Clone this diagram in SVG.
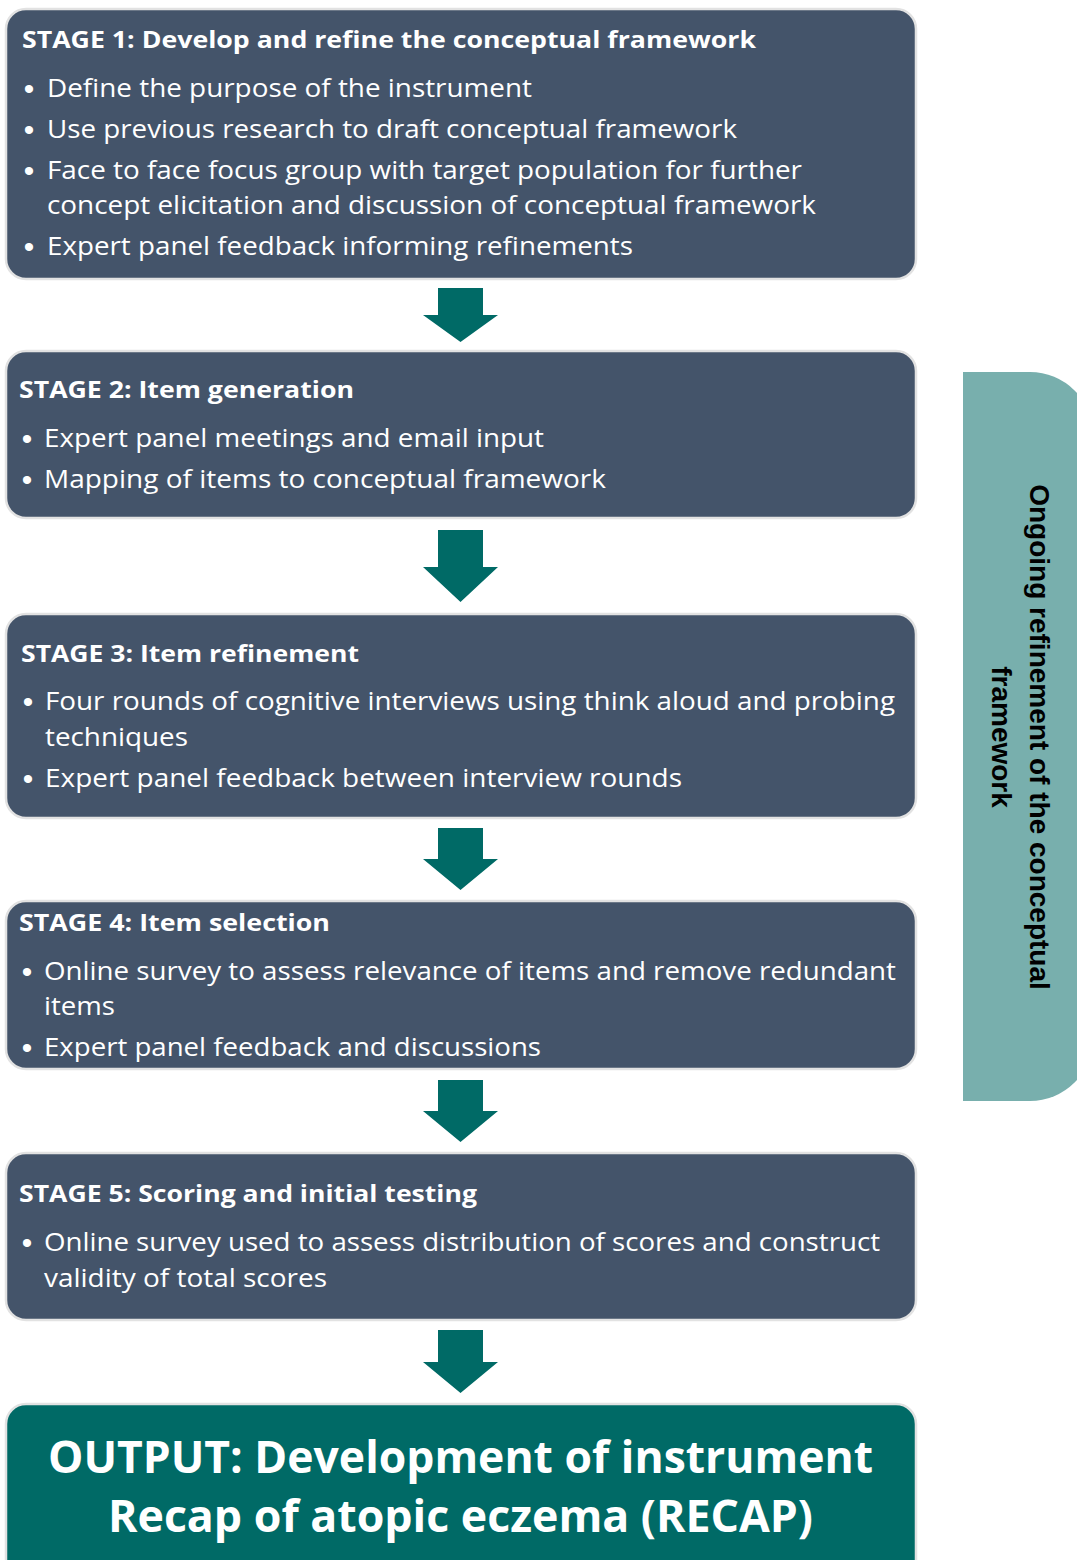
<svg xmlns="http://www.w3.org/2000/svg" width="1077" height="1560" viewBox="0 0 1077 1560">
<style>
.box{fill:#44546A;stroke:#E2E2E2;stroke-width:2.5}
.out{fill:#006A66;stroke:#E2E2E2;stroke-width:2.5}
.arrow{fill:#006A66}
.title{font-family:"Open Sans","Noto Sans",sans-serif;font-weight:bold;font-size:24px;fill:#FFFFFF}
.body{font-family:"Open Sans","Noto Sans",sans-serif;font-size:25px;fill:#FFFFFF}
.bul{font-family:"Liberation Sans",Arial,sans-serif;font-size:30px;fill:#FFFFFF;text-anchor:middle}
.big{font-family:"Open Sans","Noto Sans",sans-serif;font-weight:bold;font-size:45px;fill:#FFFFFF;text-anchor:middle}
.side{font-family:"Liberation Sans",Arial,sans-serif;font-weight:bold;font-size:28px;fill:#000000;text-anchor:middle}
</style>
<rect width="1077" height="1560" fill="#FFFFFF"/>

<g id="side-panel">
<path d="M963,372 H1030 A63,63 0 0 1 1093,435 V1038 A63,63 0 0 1 1030,1101 H963 Z" fill="#78AFAD"/>
<g transform="translate(1030,737) rotate(90)">
<text class="side" x="0" y="0">Ongoing refinement of the conceptual</text>
<text class="side" x="0" y="38">framework</text>
</g>
</g>

<g id="stage1">
<rect class="box" x="6" y="9" width="910" height="270" rx="20"/>
<text class="title" x="22" y="48" textLength="734" lengthAdjust="spacingAndGlyphs">STAGE 1: Develop and refine the conceptual framework</text>
<text class="bul" x="29" y="99">•</text>
<text class="body" x="47" y="97" textLength="485" lengthAdjust="spacingAndGlyphs">Define the purpose of the instrument</text>
<text class="bul" x="29" y="140">•</text>
<text class="body" x="47" y="138" textLength="690" lengthAdjust="spacingAndGlyphs">Use previous research to draft conceptual framework</text>
<text class="bul" x="29" y="181">•</text>
<text class="body" x="47" y="179" textLength="755" lengthAdjust="spacingAndGlyphs">Face to face focus group with target population for further</text>
<text class="body" x="47" y="214" textLength="769" lengthAdjust="spacingAndGlyphs">concept elicitation and discussion of conceptual framework</text>
<text class="bul" x="29" y="257">•</text>
<text class="body" x="47" y="255" textLength="586" lengthAdjust="spacingAndGlyphs">Expert panel feedback informing refinements</text>
</g>

<g id="stage2">
<rect class="box" x="6" y="351" width="910" height="167" rx="20"/>
<text class="title" x="19" y="398" textLength="335" lengthAdjust="spacingAndGlyphs">STAGE 2: Item generation</text>
<text class="bul" x="27" y="449">•</text>
<text class="body" x="44" y="447" textLength="500" lengthAdjust="spacingAndGlyphs">Expert panel meetings and email input</text>
<text class="bul" x="27" y="490">•</text>
<text class="body" x="44" y="488" textLength="562" lengthAdjust="spacingAndGlyphs">Mapping of items to conceptual framework</text>
</g>

<g id="stage3">
<rect class="box" x="6" y="614" width="910" height="204" rx="20"/>
<text class="title" x="21" y="662" textLength="338" lengthAdjust="spacingAndGlyphs">STAGE 3: Item refinement</text>
<text class="bul" x="28" y="712">•</text>
<text class="body" x="45" y="710" textLength="850" lengthAdjust="spacingAndGlyphs">Four rounds of cognitive interviews using think aloud and probing</text>
<text class="body" x="45" y="746" textLength="143" lengthAdjust="spacingAndGlyphs">techniques</text>
<text class="bul" x="28" y="789">•</text>
<text class="body" x="45" y="787" textLength="637" lengthAdjust="spacingAndGlyphs">Expert panel feedback between interview rounds</text>
</g>

<g id="stage4">
<rect class="box" x="6" y="901" width="910" height="168" rx="20"/>
<text class="title" x="19" y="931" textLength="311" lengthAdjust="spacingAndGlyphs">STAGE 4: Item selection</text>
<text class="bul" x="27" y="982">•</text>
<text class="body" x="44" y="980" textLength="852" lengthAdjust="spacingAndGlyphs">Online survey to assess relevance of items and remove redundant</text>
<text class="body" x="44" y="1015" textLength="71" lengthAdjust="spacingAndGlyphs">items</text>
<text class="bul" x="27" y="1058">•</text>
<text class="body" x="44" y="1056" textLength="497" lengthAdjust="spacingAndGlyphs">Expert panel feedback and discussions</text>
</g>

<g id="stage5">
<rect class="box" x="6" y="1153" width="910" height="167" rx="20"/>
<text class="title" x="19" y="1202" textLength="458" lengthAdjust="spacingAndGlyphs">STAGE 5: Scoring and initial testing</text>
<text class="bul" x="27" y="1253">•</text>
<text class="body" x="44" y="1251" textLength="836" lengthAdjust="spacingAndGlyphs">Online survey used to assess distribution of scores and construct</text>
<text class="body" x="44" y="1287" textLength="283" lengthAdjust="spacingAndGlyphs">validity of total scores</text>
</g>

<g id="output">
<rect class="out" x="6" y="1404" width="910" height="180" rx="20"/>
<text class="big" x="460.5" y="1473" textLength="825" lengthAdjust="spacingAndGlyphs">OUTPUT: Development of instrument</text>
<text class="big" x="460.5" y="1532" textLength="705" lengthAdjust="spacingAndGlyphs">Recap of atopic eczema (RECAP)</text>
</g>

<g id="connectors">
<path class="arrow" d="M438,288 H483 V315 H498 L460.5,342 L423,315 H438 Z"/>
<path class="arrow" d="M438,530 H483 V567 H498 L460.5,602 L423,567 H438 Z"/>
<path class="arrow" d="M438,828 H483 V859 H498 L460.5,890 L423,859 H438 Z"/>
<path class="arrow" d="M438,1080 H483 V1111 H498 L460.5,1142 L423,1111 H438 Z"/>
<path class="arrow" d="M438,1330 H483 V1362 H498 L460.5,1393 L423,1362 H438 Z"/>
</g>
</svg>
